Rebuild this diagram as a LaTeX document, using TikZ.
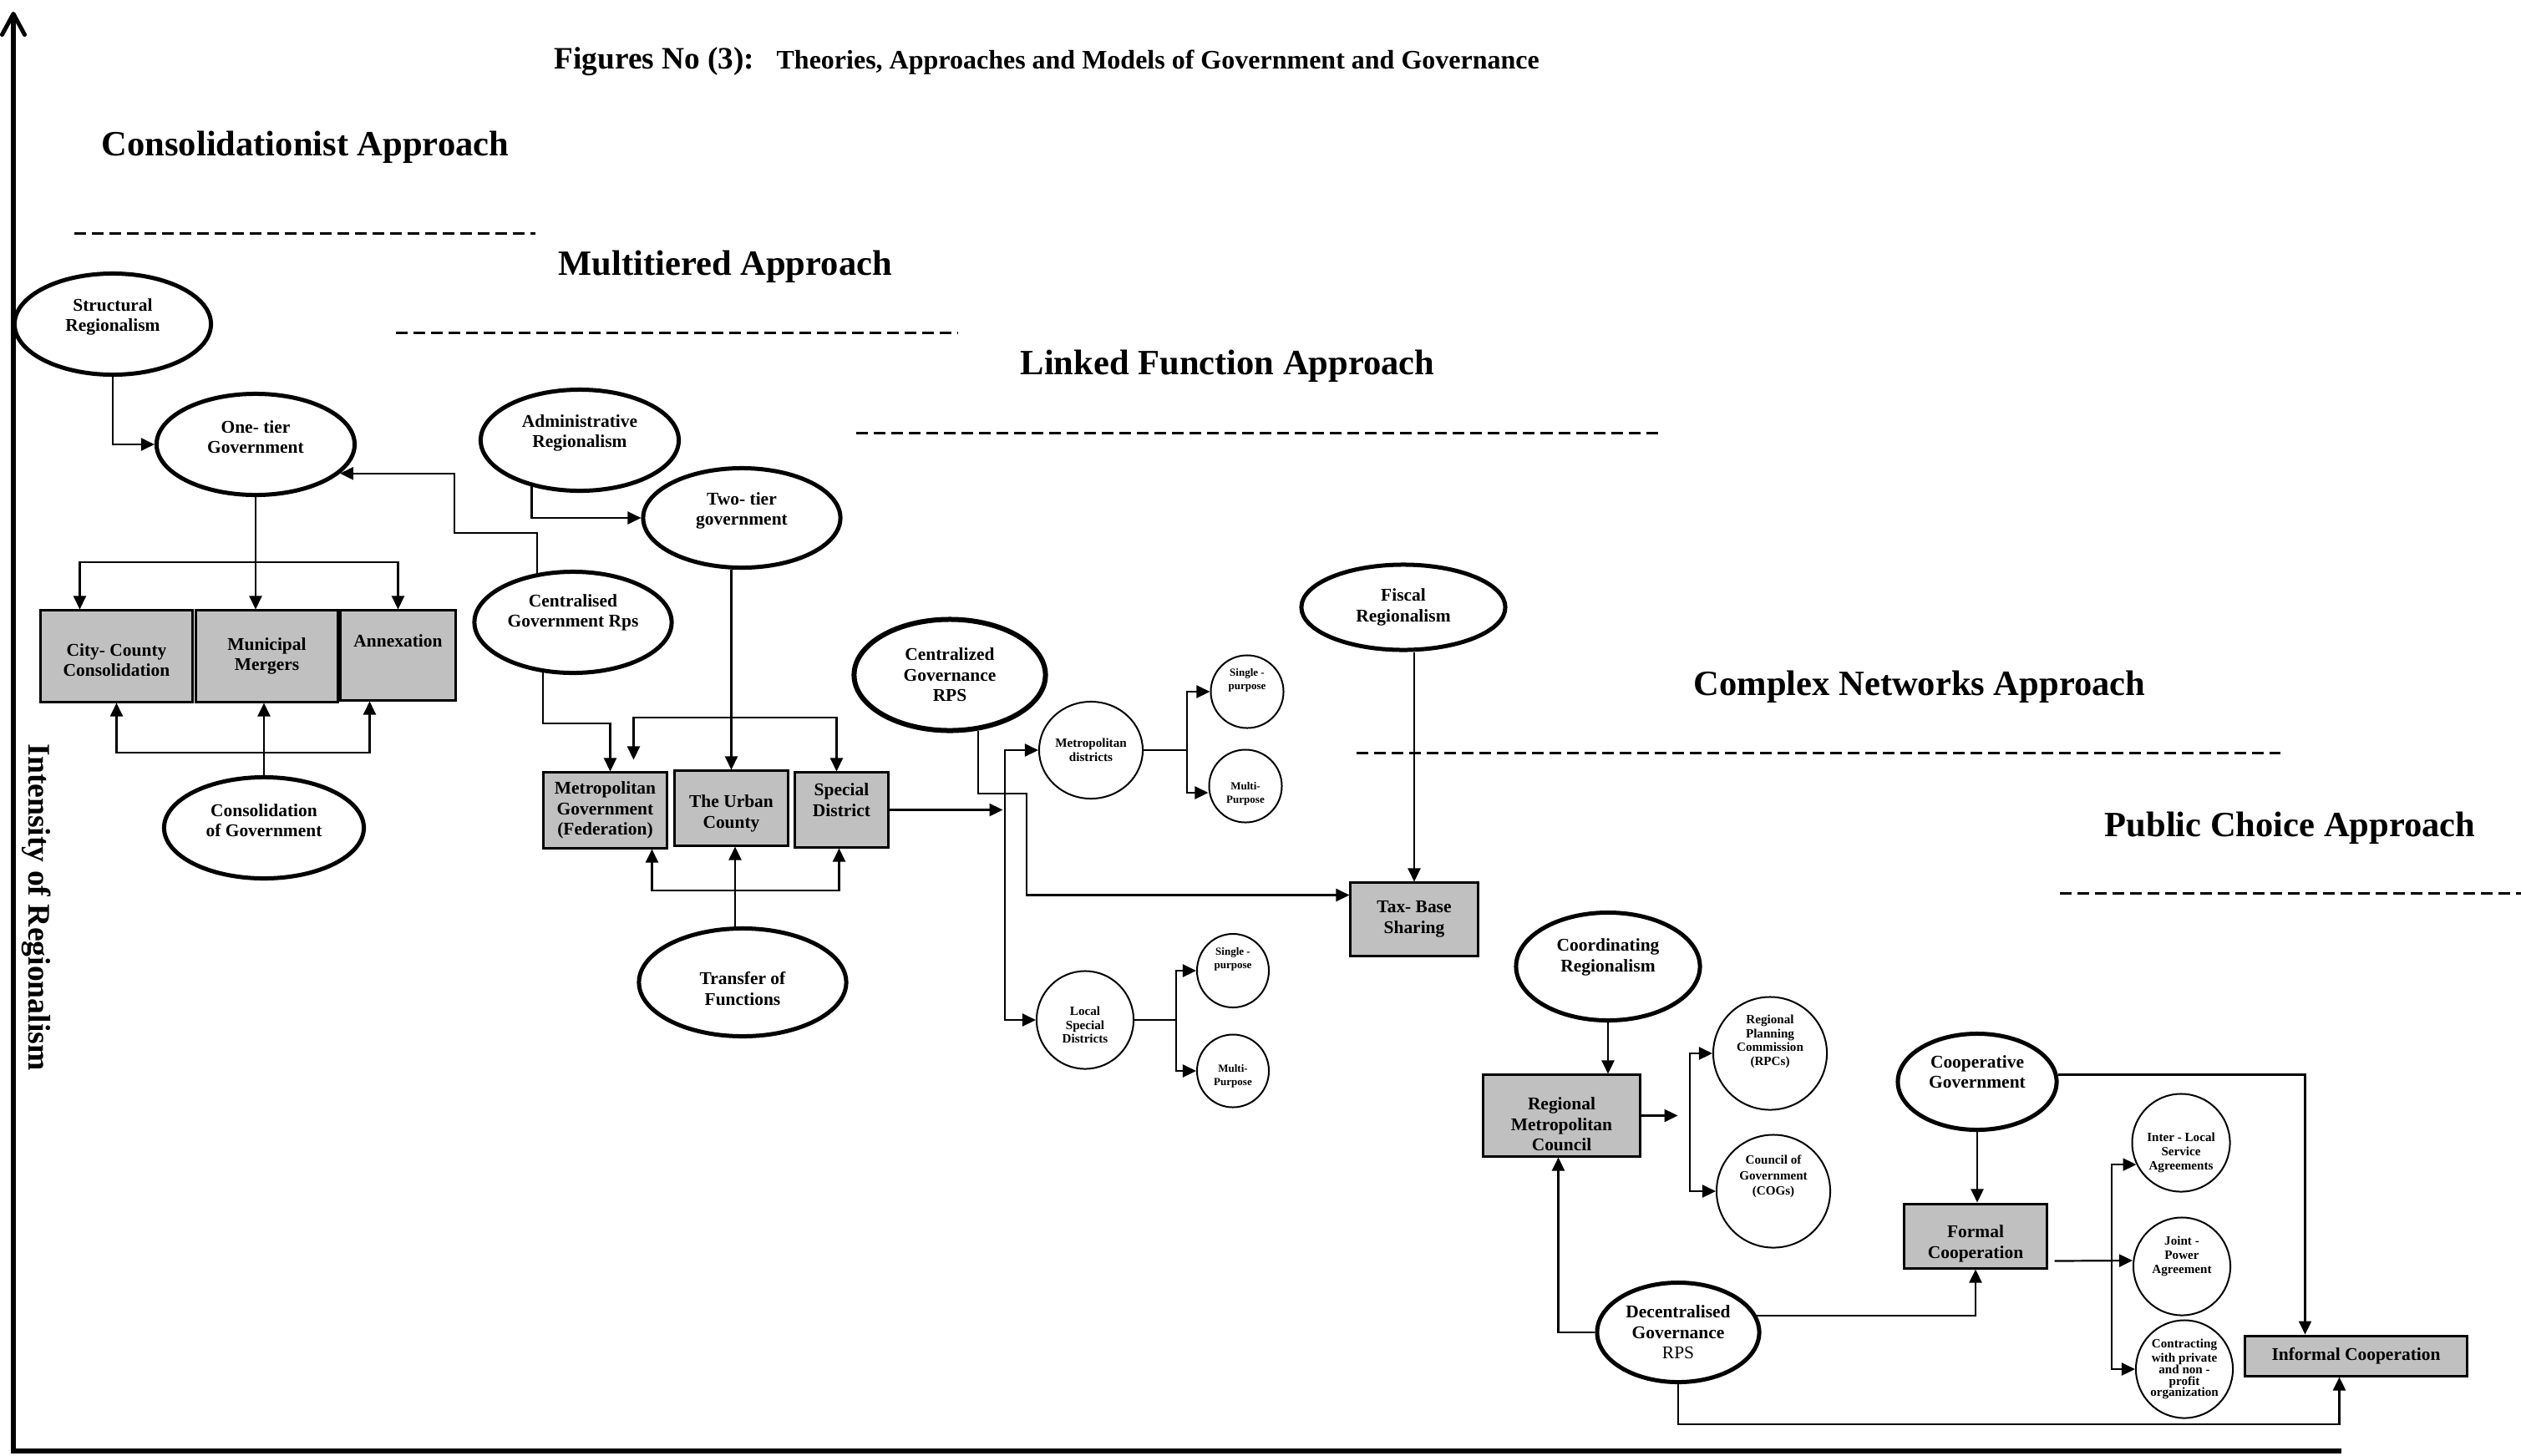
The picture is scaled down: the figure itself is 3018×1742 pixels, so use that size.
\documentclass[tikz,border=0pt]{standalone}
\usepackage{fontspec}
\setmainfont{Liberation Serif}
\usetikzlibrary{calc,positioning}
\usetikzlibrary{shapes}
\usetikzlibrary{arrows.meta}
\definecolor{boxgrey}{HTML}{C0C0C0}

\begin{document}
\begin{tikzpicture}[x=0.01cm, y=-0.01cm,
	oval/.style = {draw, ellipse, line width=0.5mm, inner sep=0pt, align=center, font=\bfseries\fontsize{6.1}{7}\selectfont},
	thinoval/.style = {draw, ellipse, line width=0.2mm, inner sep=0pt, align=center, font=\bfseries\fontsize{4.3}{4.8}\selectfont},
	tinyoval/.style = {thinoval, font=\bfseries\fontsize{3.7}{4.5}\selectfont},
	greybox/.style = {draw, rectangle, fill=boxgrey, line width=0.3mm, inner sep=0pt, align=center, font=\bfseries\fontsize{6.1}{7}\selectfont},
	arr/.style = {line width=0.22mm, -{Triangle[length=1.6mm,width=1.5mm]}},
	wire/.style = {line width=0.22mm},
	dashline/.style = {line width=0.3mm, dash pattern=on 1.4mm off 0.7mm},
	approach/.style = {anchor=base west, inner sep=0pt, font=\bfseries\fontsize{12.1}{14}\selectfont}]
	\useasboundingbox (0,0) rectangle (3018,1742);

	\draw[line width=0.5mm, -{Straight Barb[length=2.5mm,width=2.7mm,round]}] (16,1737) -- (16,14);
	\draw[line width=0.6mm] (13,1737) -- (2803,1737);
	\node[rotate=-90, font=\bfseries\fontsize{10.7}{12}\selectfont] (axis) at (44,1086) {Intensity of Regionalism};

	\node[anchor=base west, inner sep=0pt, font=\bfseries\fontsize{10.6}{12}\selectfont] (t1) at (663,82) {Figures No (3):};
	\node[base right=0.25cm of t1, inner sep=0pt, font=\bfseries\fontsize{9.1}{11}\selectfont] (t2) {Theories, Approaches and Models of Government and Governance};

	\node[approach] (h1) at (121,186) {Consolidationist Approach};
	\node[approach] (h2) at (668,329) {Multitiered Approach};
	\node[approach] (h3) at (1221,448) {Linked Function Approach};
	\node[approach] (h4) at (2027,832) {Complex Networks Approach};
	\node[approach] (h5) at (2519,1001) {Public Choice Approach};
	\draw[dashline] (89,279) -- (641,279);
	\draw[dashline] (474,398) -- (1147,398);
	\draw[dashline] (1025,518) -- (1986,518);
	\draw[dashline] (1624,901) -- (2730,901);
	\draw[dashline] (2466,1069) -- (3018,1069);

	\node[oval, minimum width=23.5mm, minimum height=12.1mm, text depth=6.3pt] (1) at (135,388) {Structural\\Regionalism};
	\node[oval, minimum width=23.7mm, minimum height=12.1mm, text depth=5pt] (2) at (306,532) {One- tier\\Government};
	\node[oval, minimum width=23.7mm, minimum height=12.1mm, text depth=6.3pt] (3) at (694,527) {Administrative\\Regionalism};
	\node[oval, minimum width=23.6mm, minimum height=11.9mm, text depth=6.3pt] (4) at (888,620) {Two- tier\\government};
	\node[oval, minimum width=23.6mm, minimum height=12.1mm, text depth=8pt] (5) at (686,745) {Centralised\\Government Rps};
	\node[oval, minimum width=23.9mm, minimum height=12.1mm, text depth=5pt] (6) at (316,991) {Consolidation\\of Government};
	\node[oval, minimum width=24.8mm, minimum height=12.9mm, text height=15.6pt] (7) at (889,1176) {Transfer of\\Functions};
	\node[oval, minimum width=22.9mm, minimum height=13.3mm, line width=0.6mm] (8) at (1137,808) {Centralized\\Governance\\RPS};
	\node[oval, minimum width=24.4mm, minimum height=10.2mm] (9) at (1680,727) {Fiscal\\Regionalism};
	\node[oval, minimum width=22mm, minimum height=12.9mm, text depth=7.6pt] (10) at (1925,1157) {Coordinating\\Regionalism};
	\node[oval, minimum width=19mm, minimum height=11.5mm, text depth=6.8pt] (11) at (2367,1295) {Cooperative\\Government};
	\node[oval, minimum width=19.4mm, minimum height=11.9mm] (12) at (2009,1595) {Decentralised\\Governance\\{\mdseries RPS}};

	\node[thinoval, minimum width=12.4mm, minimum height=11.6mm] (13) at (1306,898) {Metropolitan\\districts};
	\node[tinyoval, minimum width=8.7mm, minimum height=8.7mm, text depth=8.4pt] (14) at (1493,828) {Single -\\purpose};
	\node[tinyoval, minimum width=8.7mm, minimum height=8.7mm, text height=12.6pt] (15) at (1491,941) {Multi-\\Purpose};
	\node[thinoval, minimum width=11.6mm, minimum height=11.7mm, text height=15.5pt, font=\bfseries\fontsize{4.3}{4.6}\selectfont] (16) at (1299,1221) {Local\\Special\\Districts};
	\node[tinyoval, minimum width=8.6mm, minimum height=8.8mm, text depth=8.4pt] (17) at (1476,1162) {Single -\\purpose};
	\node[tinyoval, minimum width=8.6mm, minimum height=8.7mm, text height=10.9pt] (18) at (1476,1282) {Multi-\\Purpose};
	\node[thinoval, minimum width=13.6mm, minimum height=13.5mm, text depth=9pt] (19) at (2119,1261) {Regional\\Planning\\Commission\\(RPCs)};
	\node[thinoval, minimum width=13.6mm, minimum height=13.5mm, text depth=11pt, font=\bfseries\fontsize{4.3}{5.3}\selectfont] (20) at (2123,1426) {Council of\\Government\\(COGs)};
	\node[thinoval, minimum width=11.7mm, minimum height=11.7mm, text height=19.2pt] (21) at (2611,1368) {Inter - Local\\Service\\Agreements};
	\node[thinoval, minimum width=11.6mm, minimum height=11.7mm, text depth=7.8pt] (22) at (2612,1516) {Joint -\\Power\\Agreement};
	\node[thinoval, minimum width=11.6mm, minimum height=11.7mm, font=\bfseries\fontsize{4.3}{3.9}\selectfont] (23) at (2615,1639) {Contracting\\with private\\and non -\\profit\\organization};

	\node[greybox, minimum width=18.1mm, minimum height=10.9mm, text height=13.9pt] (24) at (139.5,785.5) {City- County\\Consolidation};
	\node[greybox, minimum width=16.9mm, minimum height=10.9mm] (25) at (319.5,785.5) {Municipal\\Mergers};
	\node[greybox, minimum width=13.7mm, minimum height=10.7mm, text depth=9.7pt] (26) at (476.5,784.5) {Annexation};
	\node[greybox, minimum width=14.7mm, minimum height=9mm] (27) at (724.5,970) {Metropolitan\\Government\\(Federation)};
	\node[greybox, minimum width=13.5mm, minimum height=8.9mm, text height=15pt] (28) at (875.5,967.5) {The Urban\\County};
	\node[greybox, minimum width=11.1mm, minimum height=8.9mm, text depth=6.8pt] (29) at (1007.5,969.5) {Special\\District};
	\node[greybox, minimum width=15.2mm, minimum height=8.7mm] (30) at (1693,1100.5) {Tax- Base\\Sharing};
	\node[greybox, minimum width=18.7mm, minimum height=9.7mm, text height=24.2pt] (31) at (1869.5,1335.5) {Regional\\Metropolitan\\Council};
	\node[greybox, minimum width=17mm, minimum height=7.7mm, text height=16.7pt] (32) at (2365,1479.5) {Formal\\Cooperation};
	\node[greybox, minimum width=26.5mm, minimum height=4.8mm] (33) at (2820.5,1623) {Informal Cooperation};

	\coordinate (a) at (306,673);
	\coordinate (b) at (316,901);
	\coordinate (c) at (875.5,859);
	\coordinate (d) at (880,1066);
	\coordinate (e) at (1203,1060);
	\coordinate (f) at (1421,898);
	\coordinate (g) at (1408,1221);
	\coordinate (h) at (2023,1336);
	\coordinate (k) at (2528,1509.5);

	\draw[arr] (1.south) |- (2.west);
	\draw[arr] (5.126) |- (544,638) |- (2.341);
	\draw[arr] (3.224) |- (4.west);
	\draw[arr] (2.south) -- (2.south |- 25.north);
	\draw[arr] (a) -| ($(24.north)+(-44,0)$);
	\draw[arr] (a) -| (26.north);
	\draw[arr] (6.north) -- (6.north |- 25.south);
	\draw[arr] (b) -| (24.south);
	\draw[arr] (b) -| ($(26.south)+(-34,0)$);
	\draw[arr] (4.south -| 28.north) -- (28.north);
	\draw[arr] (c) -| ($(27.north)+(34,-14)$);
	\draw[arr] (c) -| ($(29.north)+(-6,0)$);
	\draw[arr] (5.239) -- ++(0,61) -| ($(27.north)+(6,0)$);
	\draw[arr] (7.north -| d) -- (d |- 28.south);
	\draw[arr] (d) -| ($(27.south)+(56,0)$);
	\draw[arr] (d) -| ($(29.south)+(-3,0)$);
	\draw[arr] (29.east) -- ++(136,0);
	\draw[arr] (e) |- (13.west);
	\draw[arr] (e) |- (16.west);
	\draw[arr] (8.297) |- (1229,950) |- ($(30.west)+(0,-29)$);
	\draw[wire] (13.east) -- (f);
	\draw[arr] (f) |- (14.west);
	\draw[arr] (f) |- ($(15.west)+(0,8)$);
	\draw[wire] (16.east) -- (g);
	\draw[arr] (g) |- (17.west);
	\draw[arr] (g) |- (18.west);
	\draw[arr] (9.south -| 30.north) -- (30.north);
	\draw[arr] (10.south) -- (10.south |- 31.north);
	\draw[arr] (31.east) -- ++(44,0);
	\draw[arr] (h) |- (19.west);
	\draw[arr] (h) |- (20.west);
	\draw[arr] (12.west) -| ($(31.south)+(-4,0)$);
	\draw[arr] (12.12) -| (32.south);
	\draw[arr] (12.south) -- ++(0,48) -| ($(33.south)+(-20,0)$);
	\draw[arr] (11.south) -- (11.south |- 32.north);
	\draw[arr] (11.5) -| ($(33.north)+(-61,0)$);
	\draw[arr] ($(32.east)+(8,30)$) -- ($(22.west)+(0,-7)$);
	\draw[arr] (k) |- (21.206);
	\draw[arr] (k) |- (23.west);
\end{tikzpicture}
\end{document}
